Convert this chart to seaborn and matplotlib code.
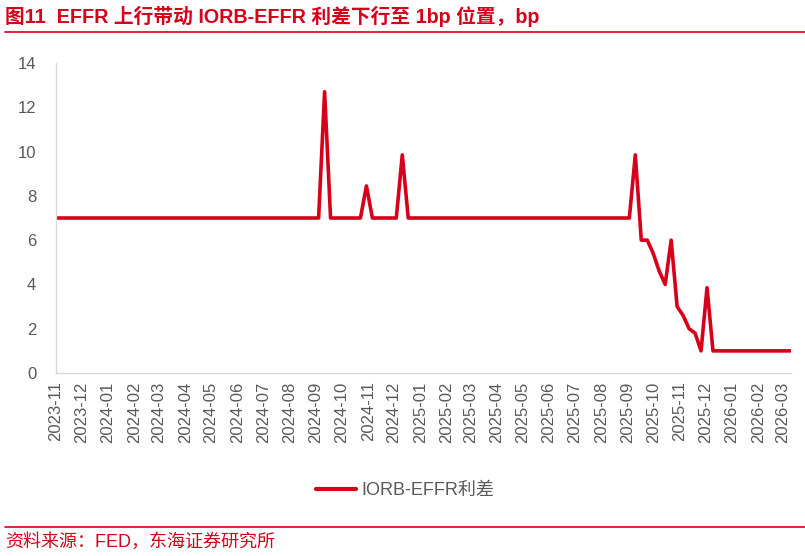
import pandas as pd
import numpy as np
import seaborn as sns
import matplotlib.pyplot as plt
import matplotlib.dates as mdates
from matplotlib.lines import Line2D

# weekly (Wednesday) observations, spread in bp
dates = pd.date_range("2023-11-01", "2026-03-11", freq="7D")
spread = [
    7, 7, 7, 7, 7, 7, 7, 7, 7, 7, 7, 7, 7, 7, 7, 7, 7, 7, 7, 7,
    7, 7, 7, 7, 7, 7, 7, 7, 7, 7, 7, 7, 7, 7, 7, 7, 7, 7, 7, 7,
    7, 7, 7, 7, 7, 12.7, 7, 7, 7, 7, 7, 7, 8.45, 7, 7, 7, 7, 7, 9.85, 7,
    7, 7, 7, 7, 7, 7, 7, 7, 7, 7, 7, 7, 7, 7, 7, 7, 7, 7, 7, 7,
    7, 7, 7, 7, 7, 7, 7, 7, 7, 7, 7, 7, 7, 7, 7, 7, 7, 9.85, 6, 6,
    5.4, 4.6, 4, 6, 3, 2.6, 2, 1.8, 1, 3.85, 1, 1, 1, 1, 1, 1, 1, 1, 1, 1,
    1, 1, 1, 1,
]
series_name = "IORB-EFFR利差"
title = "图11  EFFR 上行带动 IORB-EFFR 利差下行至 1bp 位置，bp"
source = "资料来源：FED，东海证券研究所"

df = pd.DataFrame({"date": dates, "value": spread, "series": series_name})

sns.set_theme(style="white")
plt.rcParams["font.family"] = ["Liberation Sans", "Noto Sans CJK SC"]
plt.rcParams["axes.unicode_minus"] = False

red = "#D7001B"
grey_line = "#D9D9D9"
grey_text = "#595959"

fig = plt.figure(figsize=(8.05, 5.56), dpi=100)
ax = fig.add_axes([0.0692, 0.3291, 0.9130, 0.5576])

sns.lineplot(data=df, x="date", y="value", hue="series", palette=[red],
             linewidth=2.6, ax=ax, legend=False)

ax.set_ylim(0, 14)
ax.set_yticks(range(0, 15, 2))
ax.set_xlim(pd.Timestamp("2023-11-01"), pd.Timestamp("2026-03-11"))
ax.xaxis.set_major_locator(mdates.MonthLocator())
ax.xaxis.set_major_formatter(mdates.DateFormatter("%Y-%m"))
ax.set_xlabel("")
ax.set_ylabel("")

for s in ["top", "right"]:
    ax.spines[s].set_visible(False)
for s in ["left", "bottom"]:
    ax.spines[s].set_color(grey_line)
    ax.spines[s].set_linewidth(1.0)

ax.tick_params(axis="both", which="major", direction="out", length=4,
               width=1, color=grey_line, labelcolor=grey_text, labelsize=12)
ax.tick_params(axis="y", pad=10)
ax.tick_params(axis="x", pad=2)
plt.setp(ax.get_xticklabels(), rotation=90)

handle = Line2D([0], [0], color=red, linewidth=3)
fig.legend([handle], [series_name], loc="center", bbox_to_anchor=(0.503, 0.117),
           frameon=False, fontsize=13, handlelength=2.2, handletextpad=0.3,
           labelcolor=grey_text)

# header / footer
fig.text(0.006, 1 - 16 / 556, title, color=red, fontsize=14.2, fontweight="bold",
         va="center", ha="left")
fig.add_artist(Line2D([0.006, 1.0], [1 - 32 / 556] * 2, color=red, linewidth=1.2))
fig.add_artist(Line2D([0.006, 1.0], [1 - 527 / 556] * 2, color=red, linewidth=1.2))
fig.text(0.006, 1 - 542 / 556, source, color=red, fontsize=13, va="center", ha="left")

fig.savefig("out.png", dpi=100)
